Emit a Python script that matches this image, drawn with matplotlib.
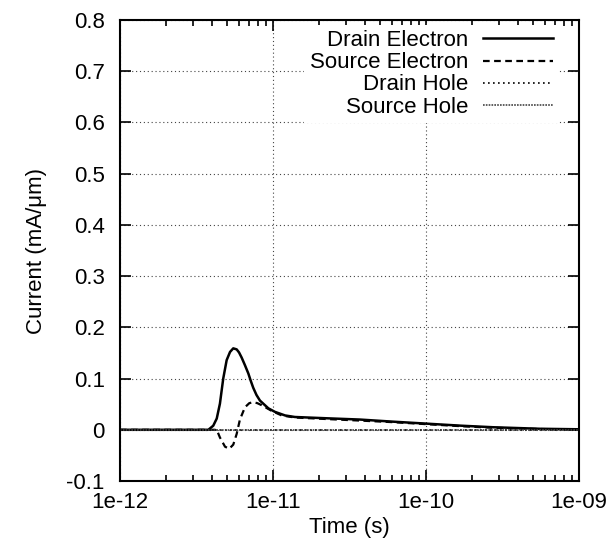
import matplotlib
matplotlib.use('Agg')
import matplotlib.pyplot as plt
from matplotlib.ticker import FuncFormatter, LogLocator, NullFormatter

plt.rcParams['font.family'] = ['Liberation Sans', 'DejaVu Sans']

# 数据
t_drain_e = [1e-12, 3.0e-12, 3.78e-12, 4.07e-12, 4.29e-12, 4.50e-12, 4.62e-12, 4.73e-12,
             4.98e-12, 5.24e-12, 5.50e-12, 5.79e-12, 6.0e-12, 6.24e-12, 6.56e-12, 6.90e-12,
             7.15e-12, 7.43e-12, 7.80e-12, 8.22e-12, 9.32e-12, 1.03e-11, 1.20e-11, 1.39e-11,
             2.24e-11, 3.70e-11, 6.0e-11, 1.01e-10, 1.7e-10, 2.74e-10, 5.56e-10, 1e-9]
i_drain_e = [0.0, 0.0, 0.0, 0.008, 0.022, 0.051, 0.077, 0.100,
             0.136, 0.152, 0.159, 0.157, 0.151, 0.141, 0.126, 0.110,
             0.096, 0.082, 0.068, 0.057, 0.042, 0.035, 0.028, 0.025,
             0.0225, 0.020, 0.016, 0.012, 0.008, 0.005, 0.002, 0.001]

t_source_e = [1e-12, 3.0e-12, 4.29e-12, 4.50e-12, 4.86e-12, 5.18e-12, 5.50e-12, 5.79e-12,
              6.08e-12, 6.56e-12, 7.0e-12, 7.43e-12, 7.90e-12, 8.44e-12, 9.80e-12, 1.14e-11,
              1.39e-11, 2.24e-11, 3.70e-11, 6.0e-11, 1.01e-10, 1.7e-10, 2.74e-10, 5.56e-10, 1e-9]
i_source_e = [0.0, 0.0, 0.0, -0.015, -0.033, -0.037, -0.029, -0.008,
              0.020, 0.044, 0.052, 0.054, 0.052, 0.048, 0.037, 0.028,
              0.024, 0.021, 0.018, 0.015, 0.011, 0.007, 0.004, 0.0015, 0.0005]

t_drain_h = [1e-12, 1e-11, 1e-10, 1e-9]
i_drain_h = [0.0, 0.0, 0.0, 0.0]

t_source_h = [1e-12, 1e-11, 1e-10, 1e-9]
i_source_h = [0.0, 0.0, 0.0, 0.0]

x_ticks = [1e-12, 1e-11, 1e-10, 1e-9]
y_ticks = [-0.1, 0, 0.1, 0.2, 0.3, 0.4, 0.5, 0.6, 0.7, 0.8]

fs = 16

fig = plt.figure(figsize=(6.14, 5.51), dpi=100)
ax = fig.add_axes([0.1954, 0.127, 0.7476, 0.8367])

ax.plot(t_drain_e, i_drain_e, color='black', lw=1.8, ls='-', label='Drain Electron')
ax.plot(t_source_e, i_source_e, color='black', lw=1.6, ls=(0, (3, 2)), label='Source Electron')
ax.plot(t_drain_h, i_drain_h, color='black', lw=1.2, ls=(0, (1, 2)), label='Drain Hole')
ax.plot(t_source_h, i_source_h, color='#444444', lw=1.2, ls=(0, (1, 0.7)), label='Source Hole')

ax.set_xscale('log')
ax.set_xlim(1e-12, 1e-9)
ax.set_ylim(-0.1, 0.8)
ax.set_xticks(x_ticks)
ax.set_yticks(y_ticks)
ax.xaxis.set_minor_locator(LogLocator(base=10, subs=range(2, 10), numticks=10))
ax.xaxis.set_minor_formatter(NullFormatter())
ax.xaxis.set_major_formatter(FuncFormatter(lambda v, p: f'{v:.0e}'))
ax.yaxis.set_major_formatter(FuncFormatter(lambda v, p: f'{v:g}'))

ax.tick_params(which='both', direction='in', top=True, right=True, labelsize=fs, width=1.2)
ax.tick_params(which='major', length=8)
ax.tick_params(which='minor', length=4)
ax.tick_params(axis='x', which='major', pad=8)
ax.tick_params(axis='y', which='major', pad=11)
for s in ax.spines.values():
    s.set_linewidth(1.5)

ax.grid(True, which='major', ls=(0, (1, 2.5)), color='#444444', lw=0.8)

ax.set_xlabel('Time (s)', fontsize=fs, labelpad=3)
ax.set_ylabel('Current (mA/μm)', fontsize=fs, labelpad=14)

# 图例 (文字在左、线在右, 右对齐)
leg = ax.legend(loc='upper right', bbox_to_anchor=(0.956, 0.99), markerfirst=False,
                fontsize=fs, frameon=True, fancybox=False, edgecolor='none',
                facecolor='white', framealpha=1, handlelength=3.15, handletextpad=0.67,
                labelspacing=0.05, borderaxespad=0, borderpad=0.25)

plt.savefig('out.png', dpi=100)
